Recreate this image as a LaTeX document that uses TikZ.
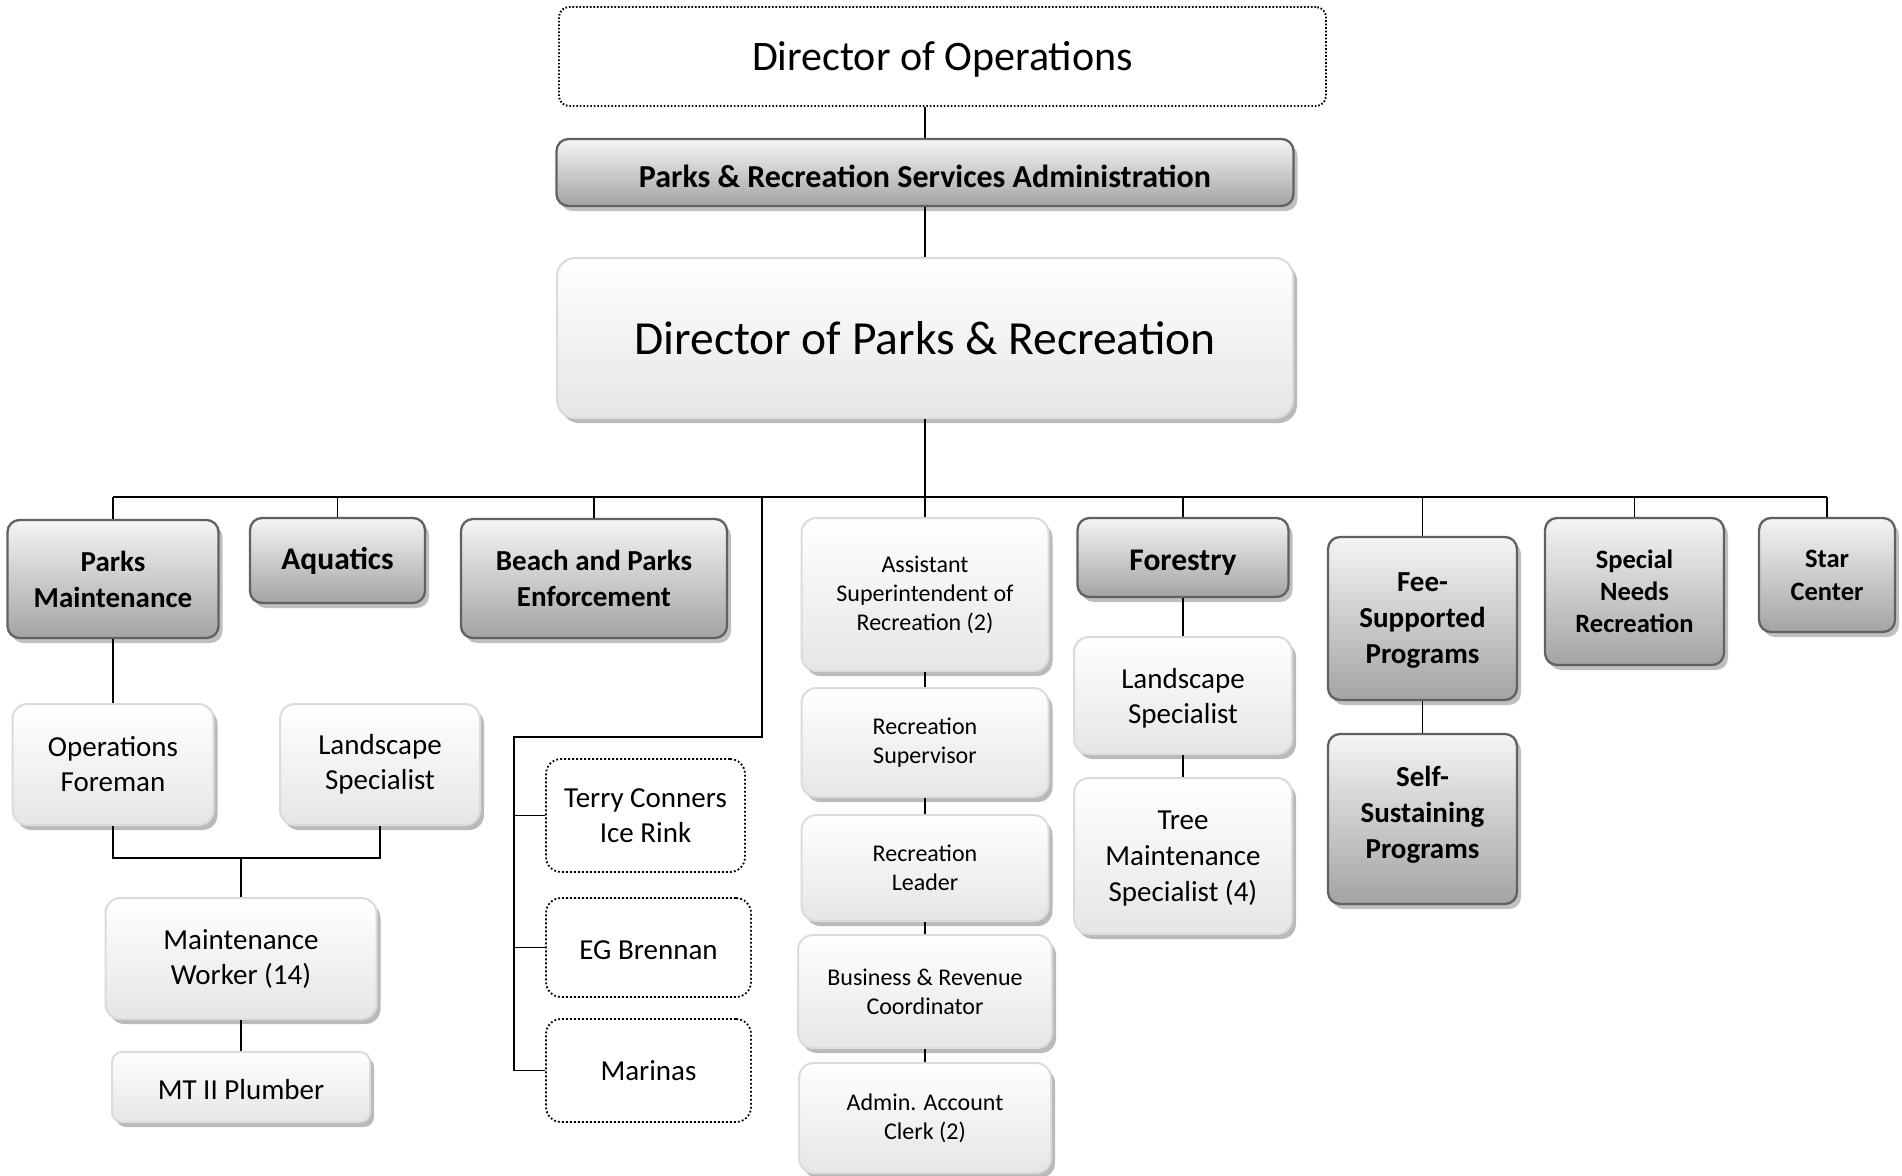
\documentclass[tikz,border=0pt]{standalone}
\usepackage{fontspec}
\setmainfont{Carlito}
\usetikzlibrary{shadows}

\tikzset{
  box/.style={rounded corners=12pt, inner sep=0pt, align=center},
  graybox/.style={box, draw=black!62, line width=2.3pt, top color=black!4, bottom color=black!36,
    drop shadow={shadow xshift=4pt, shadow yshift=-5pt, fill=black!25, opacity=1},
    font=\bfseries\fontsize{29}{36}\selectfont},
  lightbox/.style={box, rounded corners=15pt, draw=black!14, line width=2pt, top color=white, bottom color=black!10,
    drop shadow={shadow xshift=4pt, shadow yshift=-5pt, fill=black!27, opacity=1},
    font=\fontsize{29}{35}\selectfont},
  smallbox/.style={lightbox, font=\fontsize{24}{29}\selectfont},
  dotbox/.style={box, rounded corners=15pt, draw=black, line width=1.8pt, dash pattern=on 1.8pt off 2.2pt,
    fill=white, font=\fontsize{29}{35}\selectfont},
  link/.style={draw=black, line width=1.8pt},
}

\begin{document}
\begin{tikzpicture}[x=1pt, y=-1pt]
\useasboundingbox (0,0) rectangle (1902,1175);

% top of the chart
\node[dotbox, rounded corners=10pt, line width=1.9pt, dash pattern=on 1.6pt off 1.9pt,
  minimum width=767pt, minimum height=99pt, font=\fontsize{42}{50}\selectfont,
  text height=28.6pt, text depth=0pt] (dirops) at (942.5,56.5) {Director of Operations};
\node[graybox, minimum width=737pt, minimum height=67pt, font=\bfseries\fontsize{32}{38}\selectfont,
  text height=30pt, text depth=0pt] (psadmin) at (925,172.5) {Parks \& Recreation Services Administration};
\node[lightbox, rounded corners=18pt, minimum width=736pt, minimum height=160pt, font=\fontsize{47.5}{57}\selectfont] (dirpr) at (925,338) {Director of Parks \& Recreation};

% first row
\node[graybox, minimum width=211pt, minimum height=118pt] (parksmaint) at (113,579) {Parks\\Maintenance};
\node[graybox, minimum width=175pt, minimum height=85pt, font=\bfseries\fontsize{31.5}{38}\selectfont] (aquatics) at (337.5,560.5) {Aquatics};
\node[graybox, minimum width=266pt, minimum height=119pt] (beach) at (594,578.5) {Beach and Parks\\Enforcement};
\node[smallbox, minimum width=247pt, minimum height=153pt] (asstsup) at (925,594.5) {Assistant\\Superintendent of\\Recreation (2)};
\node[graybox, minimum width=211pt, minimum height=79pt, font=\bfseries\fontsize{31.5}{38}\selectfont,
  text height=25.4pt, text depth=0pt] (forestry) at (1183,557.5) {Forestry};
\node[graybox, minimum width=189pt, minimum height=163pt, text depth=-1pt] (feeprog) at (1422.5,618.5) {Fee-\\Supported\\Programs};
\node[graybox, minimum width=179pt, minimum height=147pt, font=\bfseries\fontsize{26.5}{32}\selectfont] (specneeds) at (1634.5,591.5) {Special\\Needs\\Recreation};
\node[graybox, minimum width=136pt, minimum height=114pt, font=\bfseries\fontsize{26.5}{33}\selectfont] (star) at (1827,575) {Star\\Center};

% parks maintenance
\node[lightbox, minimum width=201pt, minimum height=121pt] (opsforeman) at (113,764.5) {Operations\\Foreman};
\node[lightbox, minimum width=200pt, minimum height=121pt] (landspec) at (380,764.5) {Landscape\\Specialist};
\node[lightbox, minimum width=271pt, minimum height=121pt, text depth=2pt] (maintwork) at (241,958.5) {Maintenance\\Worker (14)};
\node[lightbox, rounded corners=10pt, minimum width=258pt, minimum height=70pt,
  text height=24.2pt, text depth=0pt] (plumber) at (241,1087) {MT II Plumber};

% facilities
\node[dotbox, minimum width=199pt, minimum height=113pt] (icerink) at (645.5,815.5) {Terry Conners\\Ice Rink};
\node[dotbox, minimum width=205pt, minimum height=99pt, text height=23.4pt, text depth=0pt] (brennan) at (648.5,947.5) {EG Brennan};
\node[dotbox, minimum width=205pt, minimum height=103pt] (marinas) at (648.5,1070.5) {Marinas};

% recreation
\node[smallbox, minimum width=247pt, minimum height=109pt] (recsup) at (925,742.5) {Recreation\\Supervisor};
\node[smallbox, minimum width=247pt, minimum height=106pt] (recleader) at (925,868) {Recreation\\Leader};
\node[smallbox, minimum width=254pt, minimum height=113pt] (busrev) at (925,991.5) {Business \& Revenue\\Coordinator};
\node[smallbox, minimum width=252pt, minimum height=110pt] (clerk) at (925,1118) {Admin. Account\\Clerk (2)};

% forestry and programs
\node[lightbox, minimum width=218pt, minimum height=117pt, text depth=0pt] (forlandspec) at (1183,695.5) {Landscape\\Specialist};
\node[lightbox, minimum width=218pt, minimum height=156pt, font=\fontsize{29}{36}\selectfont, text depth=0pt] (treemaint) at (1183,856) {Tree\\Maintenance\\Specialist (4)};
\node[graybox, minimum width=189pt, minimum height=170pt, text depth=13pt] (selfprog) at (1422.5,819) {Self-\\Sustaining\\Programs};

% connectors
\coordinate (busL) at (113,497);
\coordinate (busR) at (1827,497);
\draw[link] (busL) -- (busR);
\draw[link] (psadmin.north |- dirops.south) -- (psadmin.north);
\draw[link] (psadmin.south) -- (dirpr.north);
\draw[link] (dirpr.south) -- (dirpr.south |- busL);
\foreach \n in {parksmaint,aquatics,beach,asstsup,forestry,feeprog,specneeds,star}
  \draw[link] (\n.north) -- (\n.north |- busL);

\coordinate (rinktop) at (762,497);
\coordinate (rinkbend) at (514,737);
\draw[link] (rinktop) |- (rinkbend) |- (marinas.west);
\draw[link] (rinkbend |- icerink.west) -- (icerink.west);
\draw[link] (rinkbend |- brennan.west) -- (brennan.west);

\coordinate (mwjoin) at (241,858);
\draw[link] (parksmaint.south) -- (opsforeman.north);
\draw[link] (opsforeman.south) |- (mwjoin);
\draw[link] (landspec.south) |- (mwjoin);
\draw[link] (mwjoin) -- (maintwork.north);
\draw[link] (maintwork.south) -- (plumber.north);

\foreach \a/\b in {asstsup/recsup,recsup/recleader,recleader/busrev,busrev/clerk,
  forestry/forlandspec,forlandspec/treemaint,feeprog/selfprog}
  \draw[link] (\a.south) -- (\b.north);
\end{tikzpicture}
\end{document}
